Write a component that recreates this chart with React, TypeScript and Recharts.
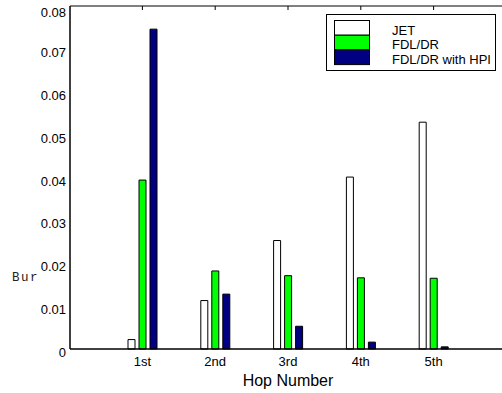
import React from "react";
import { BarChart, Bar, XAxis, YAxis, Legend } from "recharts";

const hops = ["1st", "2nd", "3rd", "4th", "5th"];
const jet = [0.0022, 0.0113, 0.0253, 0.0401, 0.0529];
const fdlDr = [0.0394, 0.0182, 0.0171, 0.0166, 0.0165];
const fdlDrHpi = [0.0746, 0.0128, 0.0053, 0.0016, 0.0005];
const yTicks = [0, 0.01, 0.02, 0.03, 0.04, 0.05, 0.06, 0.07, 0.08];

const series = [
  { key: "jet", name: "JET", fill: "#ffffff" },
  { key: "fdl", name: "FDL/DR", fill: "#00ff00" },
  { key: "hpi", name: "FDL/DR with HPI", fill: "#000080" },
];

const data = hops.map((hop, i) => ({
  hop,
  jet: jet[i],
  fdl: fdlDr[i],
  hpi: fdlDrHpi[i],
}));

const fmtY = (v: number) => (v === 0 ? "0" : v.toFixed(2));

// y labels sit a few px under their tick, like the original
const YTick = (props: any) => {
  const { x, y, payload } = props;
  return (
    <text x={x} y={y + 8} textAnchor="end" fontSize={13} fill="#000">
      {fmtY(payload.value)}
    </text>
  );
};

// tick marks only, no label
const NoLabel = () => <g />;

// clipped y label, left over from the source figure
const BurLabel = () => (
  <text
    x={12}
    y={281}
    fontSize={12.5}
    fontFamily="Liberation Mono, DejaVu Sans Mono, monospace"
    letterSpacing={1.5}
    fill="#222"
  >
    Bur
  </text>
);

const LegendBox = () => {
  const rowH = 14.7;
  return (
    <svg width={171} height={58} style={{ display: "block" }}>
      <rect x={0.5} y={0.5} width={169} height={56} fill="#fff" stroke="#000" />
      {series.map((s, i) => (
        <g key={s.key}>
          <rect
            x={8.5}
            y={6.5 + i * rowH}
            width={35}
            height={rowH}
            fill={s.fill}
            stroke="#000"
          />
          <text x={66} y={20.5 + i * rowH} fontSize={13} fill="#000">
            {s.name}
          </text>
        </g>
      ))}
    </svg>
  );
};

export default function App() {
  return (
    <div
      style={{
        position: "fixed",
        left: 0,
        top: 0,
        width: 502,
        height: 393,
        overflow: "hidden",
        background: "#fff",
        fontFamily: "Liberation Sans, Arial, sans-serif",
      }}
    >
      <BarChart
        width={507}
        height={393}
        data={data}
        margin={{ top: 6, right: 1, bottom: 4, left: 0 }}
        barSize={7}
        barGap={4}
      >
        <XAxis
          xAxisId="bottom"
          dataKey="hop"
          height={40}
          padding={{ left: 36, right: 36 }}
          axisLine={{ stroke: "#000", strokeWidth: 1.5 }}
          tickLine={false}
          tickSize={0}
          tickMargin={8}
          tick={{ fontSize: 13, fill: "#000" }}
          label={{
            value: "Hop Number",
            position: "insideBottom",
            offset: 3,
            fontSize: 16,
            fill: "#000",
          }}
        />
        <XAxis
          xAxisId="top"
          dataKey="hop"
          orientation="top"
          mirror
          padding={{ left: 36, right: 36 }}
          axisLine={{ stroke: "#000" }}
          tickLine={{ stroke: "#000" }}
          tickSize={4}
          tick={<NoLabel />}
        />
        <YAxis
          yAxisId="left"
          width={70}
          domain={[0, 0.08]}
          ticks={yTicks}
          axisLine={{ stroke: "#000", strokeWidth: 1.5 }}
          tickLine={false}
          tickSize={0}
          tickMargin={4}
          tick={<YTick />}
          label={BurLabel}
        />
        <YAxis
          yAxisId="leftIn"
          mirror
          domain={[0, 0.08]}
          ticks={yTicks}
          axisLine={false}
          tickLine={{ stroke: "#000" }}
          tickSize={4}
          tick={<NoLabel />}
        />
        <YAxis
          yAxisId="right"
          orientation="right"
          mirror
          domain={[0, 0.08]}
          ticks={yTicks}
          axisLine={{ stroke: "#000" }}
          tickLine={{ stroke: "#000" }}
          tickSize={7}
          tick={<NoLabel />}
        />
        <Legend
          layout="vertical"
          align="center"
          verticalAlign="middle"
          content={<LegendBox />}
          wrapperStyle={{ left: 326, top: 14, width: 171, height: 58 }}
        />
        {series.map((s) => (
          <Bar
            key={s.key}
            xAxisId="bottom"
            yAxisId="left"
            dataKey={s.key}
            name={s.name}
            fill={s.fill}
            stroke="#000"
            strokeWidth={1}
            isAnimationActive={false}
          />
        ))}
      </BarChart>
    </div>
  );
}
